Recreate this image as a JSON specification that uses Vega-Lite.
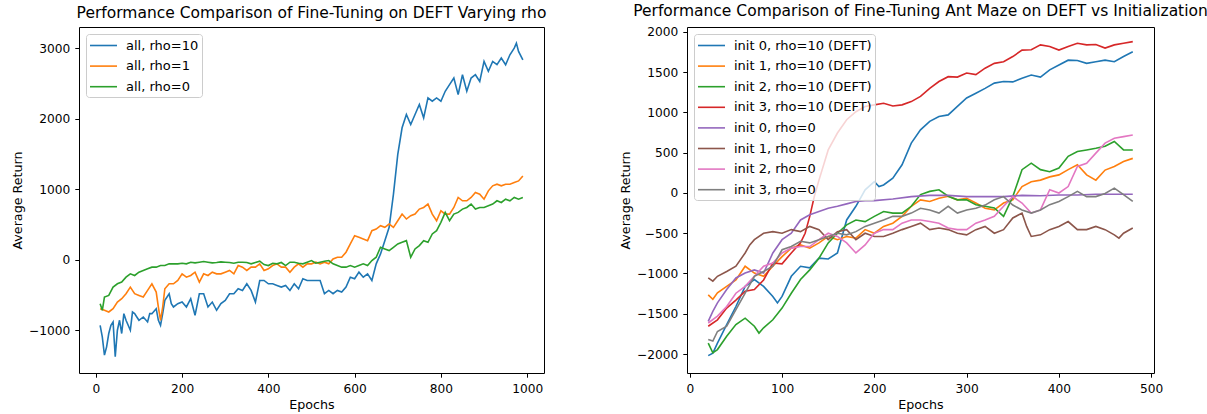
{
  "$schema": "https://vega.github.io/schema/vega-lite/v6.json",
  "background": "white",
  "padding": {"left": 11, "top": 3, "right": 0, "bottom": 0},
  "config": {
    "font": "DejaVu Sans",
    "view": {"stroke": "black", "strokeWidth": 1},
    "axis": {"domain": false, "grid": false, "tickColor": "black", "tickSize": 4.2, "tickWidth": 1, "labelColor": "black", "labelFontSize": 12.2, "titleFontSize": 12.7, "titleFontWeight": "normal", "titleColor": "black", "labelPadding": 5, "titlePadding": 4},
    "title": {"fontSize": 15.5, "fontWeight": "normal", "color": "black", "offset": 6},
    "legend": {"orient": "top-left", "offset": 7, "padding": 3, "fillColor": "rgba(255,255,255,0.8)", "strokeColor": "#cccccc", "cornerRadius": 3, "symbolType": "M-1.8,0H1.8", "symbolSize": 225, "symbolStrokeWidth": 1.8, "symbolOffset": 6, "labelFontSize": 13, "labelColor": "black", "labelOffset": 14, "rowPadding": 4.6, "labelLimit": 0},
    "line": {"strokeWidth": 1.6}
  },
  "spacing": 143,
  "bounds": "flush",
  "resolve": {"scale": {"color": "independent", "x": "independent", "y": "independent"}, "legend": {"color": "independent"}},
  "hconcat": [
    {
      "title": "Performance Comparison of Fine-Tuning on DEFT Varying rho",
      "width": 465,
      "height": 346,
      "data": {"values": [
        {"run":"all, rho=10","epoch":10,"ret":-933},{"run":"all, rho=10","epoch":15,"ret":-1097},{"run":"all, rho=10","epoch":20,"ret":-1356},{"run":"all, rho=10","epoch":25,"ret":-1239},{"run":"all, rho=10","epoch":30,"ret":-1050},{"run":"all, rho=10","epoch":35,"ret":-933},{"run":"all, rho=10","epoch":40,"ret":-885},{"run":"all, rho=10","epoch":45,"ret":-1380},{"run":"all, rho=10","epoch":50,"ret":-1003},{"run":"all, rho=10","epoch":55,"ret":-862},{"run":"all, rho=10","epoch":60,"ret":-1050},{"run":"all, rho=10","epoch":65,"ret":-768},{"run":"all, rho=10","epoch":70,"ret":-862},{"run":"all, rho=10","epoch":75,"ret":-933},{"run":"all, rho=10","epoch":80,"ret":-1003},{"run":"all, rho=10","epoch":85,"ret":-745},{"run":"all, rho=10","epoch":90,"ret":-768},{"run":"all, rho=10","epoch":95,"ret":-815},{"run":"all, rho=10","epoch":100,"ret":-862},{"run":"all, rho=10","epoch":110,"ret":-815},{"run":"all, rho=10","epoch":120,"ret":-885},{"run":"all, rho=10","epoch":125,"ret":-768},{"run":"all, rho=10","epoch":130,"ret":-768},{"run":"all, rho=10","epoch":140,"ret":-697},{"run":"all, rho=10","epoch":145,"ret":-862},{"run":"all, rho=10","epoch":150,"ret":-933},{"run":"all, rho=10","epoch":155,"ret":-768},{"run":"all, rho=10","epoch":160,"ret":-579},{"run":"all, rho=10","epoch":170,"ret":-485},{"run":"all, rho=10","epoch":175,"ret":-626},{"run":"all, rho=10","epoch":180,"ret":-673},{"run":"all, rho=10","epoch":190,"ret":-626},{"run":"all, rho=10","epoch":200,"ret":-603},{"run":"all, rho=10","epoch":210,"ret":-673},{"run":"all, rho=10","epoch":220,"ret":-556},{"run":"all, rho=10","epoch":230,"ret":-791},{"run":"all, rho=10","epoch":240,"ret":-485},{"run":"all, rho=10","epoch":250,"ret":-485},{"run":"all, rho=10","epoch":260,"ret":-673},{"run":"all, rho=10","epoch":270,"ret":-603},{"run":"all, rho=10","epoch":280,"ret":-720},{"run":"all, rho=10","epoch":290,"ret":-626},{"run":"all, rho=10","epoch":300,"ret":-579},{"run":"all, rho=10","epoch":310,"ret":-485},{"run":"all, rho=10","epoch":320,"ret":-485},{"run":"all, rho=10","epoch":330,"ret":-414},{"run":"all, rho=10","epoch":340,"ret":-438},{"run":"all, rho=10","epoch":350,"ret":-344},{"run":"all, rho=10","epoch":360,"ret":-438},{"run":"all, rho=10","epoch":370,"ret":-603},{"run":"all, rho=10","epoch":380,"ret":-297},{"run":"all, rho=10","epoch":390,"ret":-297},{"run":"all, rho=10","epoch":400,"ret":-344},{"run":"all, rho=10","epoch":410,"ret":-344},{"run":"all, rho=10","epoch":420,"ret":-367},{"run":"all, rho=10","epoch":430,"ret":-391},{"run":"all, rho=10","epoch":440,"ret":-367},{"run":"all, rho=10","epoch":450,"ret":-438},{"run":"all, rho=10","epoch":460,"ret":-344},{"run":"all, rho=10","epoch":470,"ret":-414},{"run":"all, rho=10","epoch":480,"ret":-273},{"run":"all, rho=10","epoch":490,"ret":-297},{"run":"all, rho=10","epoch":500,"ret":-297},{"run":"all, rho=10","epoch":510,"ret":-297},{"run":"all, rho=10","epoch":520,"ret":-297},{"run":"all, rho=10","epoch":530,"ret":-485},{"run":"all, rho=10","epoch":540,"ret":-438},{"run":"all, rho=10","epoch":550,"ret":-485},{"run":"all, rho=10","epoch":560,"ret":-438},{"run":"all, rho=10","epoch":570,"ret":-462},{"run":"all, rho=10","epoch":580,"ret":-391},{"run":"all, rho=10","epoch":590,"ret":-250},{"run":"all, rho=10","epoch":600,"ret":-273},{"run":"all, rho=10","epoch":610,"ret":-179},{"run":"all, rho=10","epoch":620,"ret":-250},{"run":"all, rho=10","epoch":630,"ret":-203},{"run":"all, rho=10","epoch":640,"ret":-297},{"run":"all, rho=10","epoch":650,"ret":-61},{"run":"all, rho=10","epoch":660,"ret":80},{"run":"all, rho=10","epoch":670,"ret":268},{"run":"all, rho=10","epoch":680,"ret":457},{"run":"all, rho=10","epoch":690,"ret":928},{"run":"all, rho=10","epoch":700,"ret":1493},{"run":"all, rho=10","epoch":710,"ret":1870},{"run":"all, rho=10","epoch":720,"ret":2058},{"run":"all, rho=10","epoch":730,"ret":1917},{"run":"all, rho=10","epoch":740,"ret":2058},{"run":"all, rho=10","epoch":750,"ret":2200},{"run":"all, rho=10","epoch":760,"ret":2011},{"run":"all, rho=10","epoch":770,"ret":2294},{"run":"all, rho=10","epoch":780,"ret":2247},{"run":"all, rho=10","epoch":790,"ret":2294},{"run":"all, rho=10","epoch":800,"ret":2247},{"run":"all, rho=10","epoch":810,"ret":2388},{"run":"all, rho=10","epoch":820,"ret":2482},{"run":"all, rho=10","epoch":830,"ret":2576},{"run":"all, rho=10","epoch":840,"ret":2341},{"run":"all, rho=10","epoch":850,"ret":2623},{"run":"all, rho=10","epoch":860,"ret":2388},{"run":"all, rho=10","epoch":870,"ret":2576},{"run":"all, rho=10","epoch":880,"ret":2623},{"run":"all, rho=10","epoch":890,"ret":2529},{"run":"all, rho=10","epoch":900,"ret":2812},{"run":"all, rho=10","epoch":910,"ret":2671},{"run":"all, rho=10","epoch":920,"ret":2812},{"run":"all, rho=10","epoch":930,"ret":2765},{"run":"all, rho=10","epoch":940,"ret":2859},{"run":"all, rho=10","epoch":950,"ret":2765},{"run":"all, rho=10","epoch":960,"ret":2906},{"run":"all, rho=10","epoch":970,"ret":3000},{"run":"all, rho=10","epoch":975,"ret":3071},{"run":"all, rho=10","epoch":980,"ret":2953},{"run":"all, rho=10","epoch":990,"ret":2835},
        {"run":"all, rho=1","epoch":10,"ret":-697},{"run":"all, rho=1","epoch":20,"ret":-721},{"run":"all, rho=1","epoch":30,"ret":-744},{"run":"all, rho=1","epoch":40,"ret":-697},{"run":"all, rho=1","epoch":50,"ret":-603},{"run":"all, rho=1","epoch":60,"ret":-556},{"run":"all, rho=1","epoch":70,"ret":-485},{"run":"all, rho=1","epoch":80,"ret":-391},{"run":"all, rho=1","epoch":90,"ret":-485},{"run":"all, rho=1","epoch":100,"ret":-509},{"run":"all, rho=1","epoch":110,"ret":-532},{"run":"all, rho=1","epoch":120,"ret":-438},{"run":"all, rho=1","epoch":130,"ret":-344},{"run":"all, rho=1","epoch":140,"ret":-462},{"run":"all, rho=1","epoch":145,"ret":-674},{"run":"all, rho=1","epoch":150,"ret":-862},{"run":"all, rho=1","epoch":155,"ret":-674},{"run":"all, rho=1","epoch":160,"ret":-414},{"run":"all, rho=1","epoch":170,"ret":-344},{"run":"all, rho=1","epoch":180,"ret":-344},{"run":"all, rho=1","epoch":190,"ret":-297},{"run":"all, rho=1","epoch":200,"ret":-203},{"run":"all, rho=1","epoch":210,"ret":-250},{"run":"all, rho=1","epoch":220,"ret":-226},{"run":"all, rho=1","epoch":230,"ret":-179},{"run":"all, rho=1","epoch":240,"ret":-320},{"run":"all, rho=1","epoch":250,"ret":-203},{"run":"all, rho=1","epoch":260,"ret":-226},{"run":"all, rho=1","epoch":270,"ret":-179},{"run":"all, rho=1","epoch":280,"ret":-203},{"run":"all, rho=1","epoch":290,"ret":-203},{"run":"all, rho=1","epoch":300,"ret":-179},{"run":"all, rho=1","epoch":310,"ret":-155},{"run":"all, rho=1","epoch":320,"ret":-203},{"run":"all, rho=1","epoch":330,"ret":-85},{"run":"all, rho=1","epoch":340,"ret":-108},{"run":"all, rho=1","epoch":350,"ret":-155},{"run":"all, rho=1","epoch":360,"ret":-108},{"run":"all, rho=1","epoch":370,"ret":-108},{"run":"all, rho=1","epoch":380,"ret":-61},{"run":"all, rho=1","epoch":390,"ret":-155},{"run":"all, rho=1","epoch":400,"ret":-132},{"run":"all, rho=1","epoch":410,"ret":-85},{"run":"all, rho=1","epoch":420,"ret":-61},{"run":"all, rho=1","epoch":430,"ret":-108},{"run":"all, rho=1","epoch":440,"ret":-108},{"run":"all, rho=1","epoch":450,"ret":-179},{"run":"all, rho=1","epoch":460,"ret":-108},{"run":"all, rho=1","epoch":470,"ret":-61},{"run":"all, rho=1","epoch":480,"ret":-108},{"run":"all, rho=1","epoch":490,"ret":-61},{"run":"all, rho=1","epoch":500,"ret":-61},{"run":"all, rho=1","epoch":510,"ret":-38},{"run":"all, rho=1","epoch":520,"ret":-61},{"run":"all, rho=1","epoch":530,"ret":-38},{"run":"all, rho=1","epoch":540,"ret":-61},{"run":"all, rho=1","epoch":550,"ret":9},{"run":"all, rho=1","epoch":560,"ret":33},{"run":"all, rho=1","epoch":570,"ret":33},{"run":"all, rho=1","epoch":580,"ret":104},{"run":"all, rho=1","epoch":590,"ret":221},{"run":"all, rho=1","epoch":600,"ret":339},{"run":"all, rho=1","epoch":610,"ret":316},{"run":"all, rho=1","epoch":620,"ret":292},{"run":"all, rho=1","epoch":630,"ret":268},{"run":"all, rho=1","epoch":640,"ret":410},{"run":"all, rho=1","epoch":650,"ret":433},{"run":"all, rho=1","epoch":660,"ret":480},{"run":"all, rho=1","epoch":670,"ret":457},{"run":"all, rho=1","epoch":680,"ret":504},{"run":"all, rho=1","epoch":690,"ret":457},{"run":"all, rho=1","epoch":700,"ret":551},{"run":"all, rho=1","epoch":710,"ret":645},{"run":"all, rho=1","epoch":720,"ret":575},{"run":"all, rho=1","epoch":730,"ret":622},{"run":"all, rho=1","epoch":740,"ret":645},{"run":"all, rho=1","epoch":750,"ret":716},{"run":"all, rho=1","epoch":760,"ret":739},{"run":"all, rho=1","epoch":770,"ret":787},{"run":"all, rho=1","epoch":780,"ret":645},{"run":"all, rho=1","epoch":790,"ret":551},{"run":"all, rho=1","epoch":800,"ret":692},{"run":"all, rho=1","epoch":810,"ret":645},{"run":"all, rho=1","epoch":820,"ret":645},{"run":"all, rho=1","epoch":830,"ret":739},{"run":"all, rho=1","epoch":840,"ret":881},{"run":"all, rho=1","epoch":850,"ret":834},{"run":"all, rho=1","epoch":860,"ret":834},{"run":"all, rho=1","epoch":870,"ret":881},{"run":"all, rho=1","epoch":880,"ret":951},{"run":"all, rho=1","epoch":890,"ret":928},{"run":"all, rho=1","epoch":900,"ret":857},{"run":"all, rho=1","epoch":910,"ret":975},{"run":"all, rho=1","epoch":920,"ret":1046},{"run":"all, rho=1","epoch":930,"ret":1069},{"run":"all, rho=1","epoch":940,"ret":1046},{"run":"all, rho=1","epoch":950,"ret":1069},{"run":"all, rho=1","epoch":960,"ret":1069},{"run":"all, rho=1","epoch":970,"ret":1093},{"run":"all, rho=1","epoch":980,"ret":1116},{"run":"all, rho=1","epoch":990,"ret":1187},
        {"run":"all, rho=0","epoch":10,"ret":-626},{"run":"all, rho=0","epoch":15,"ret":-721},{"run":"all, rho=0","epoch":20,"ret":-532},{"run":"all, rho=0","epoch":30,"ret":-509},{"run":"all, rho=0","epoch":40,"ret":-391},{"run":"all, rho=0","epoch":50,"ret":-344},{"run":"all, rho=0","epoch":60,"ret":-320},{"run":"all, rho=0","epoch":70,"ret":-250},{"run":"all, rho=0","epoch":80,"ret":-203},{"run":"all, rho=0","epoch":90,"ret":-226},{"run":"all, rho=0","epoch":100,"ret":-179},{"run":"all, rho=0","epoch":110,"ret":-155},{"run":"all, rho=0","epoch":120,"ret":-132},{"run":"all, rho=0","epoch":130,"ret":-108},{"run":"all, rho=0","epoch":140,"ret":-108},{"run":"all, rho=0","epoch":150,"ret":-85},{"run":"all, rho=0","epoch":160,"ret":-85},{"run":"all, rho=0","epoch":170,"ret":-61},{"run":"all, rho=0","epoch":180,"ret":-61},{"run":"all, rho=0","epoch":190,"ret":-61},{"run":"all, rho=0","epoch":200,"ret":-52},{"run":"all, rho=0","epoch":210,"ret":-61},{"run":"all, rho=0","epoch":220,"ret":-38},{"run":"all, rho=0","epoch":230,"ret":-47},{"run":"all, rho=0","epoch":240,"ret":-38},{"run":"all, rho=0","epoch":250,"ret":-28},{"run":"all, rho=0","epoch":260,"ret":-38},{"run":"all, rho=0","epoch":270,"ret":-47},{"run":"all, rho=0","epoch":280,"ret":-42},{"run":"all, rho=0","epoch":290,"ret":-33},{"run":"all, rho=0","epoch":300,"ret":-38},{"run":"all, rho=0","epoch":310,"ret":-42},{"run":"all, rho=0","epoch":320,"ret":-52},{"run":"all, rho=0","epoch":330,"ret":-38},{"run":"all, rho=0","epoch":340,"ret":-38},{"run":"all, rho=0","epoch":350,"ret":-42},{"run":"all, rho=0","epoch":360,"ret":-61},{"run":"all, rho=0","epoch":370,"ret":-42},{"run":"all, rho=0","epoch":380,"ret":-24},{"run":"all, rho=0","epoch":390,"ret":-71},{"run":"all, rho=0","epoch":400,"ret":-85},{"run":"all, rho=0","epoch":410,"ret":-52},{"run":"all, rho=0","epoch":420,"ret":-61},{"run":"all, rho=0","epoch":430,"ret":-42},{"run":"all, rho=0","epoch":440,"ret":-85},{"run":"all, rho=0","epoch":450,"ret":-38},{"run":"all, rho=0","epoch":460,"ret":-38},{"run":"all, rho=0","epoch":470,"ret":-52},{"run":"all, rho=0","epoch":480,"ret":-61},{"run":"all, rho=0","epoch":490,"ret":-38},{"run":"all, rho=0","epoch":500,"ret":-14},{"run":"all, rho=0","epoch":510,"ret":-52},{"run":"all, rho=0","epoch":520,"ret":-38},{"run":"all, rho=0","epoch":530,"ret":-24},{"run":"all, rho=0","epoch":540,"ret":-14},{"run":"all, rho=0","epoch":550,"ret":-61},{"run":"all, rho=0","epoch":560,"ret":-85},{"run":"all, rho=0","epoch":570,"ret":-108},{"run":"all, rho=0","epoch":580,"ret":-108},{"run":"all, rho=0","epoch":590,"ret":-85},{"run":"all, rho=0","epoch":600,"ret":-108},{"run":"all, rho=0","epoch":610,"ret":-85},{"run":"all, rho=0","epoch":620,"ret":-61},{"run":"all, rho=0","epoch":630,"ret":-85},{"run":"all, rho=0","epoch":640,"ret":-14},{"run":"all, rho=0","epoch":650,"ret":33},{"run":"all, rho=0","epoch":660,"ret":174},{"run":"all, rho=0","epoch":670,"ret":151},{"run":"all, rho=0","epoch":680,"ret":127},{"run":"all, rho=0","epoch":690,"ret":174},{"run":"all, rho=0","epoch":700,"ret":221},{"run":"all, rho=0","epoch":710,"ret":245},{"run":"all, rho=0","epoch":720,"ret":268},{"run":"all, rho=0","epoch":730,"ret":33},{"run":"all, rho=0","epoch":740,"ret":151},{"run":"all, rho=0","epoch":750,"ret":198},{"run":"all, rho=0","epoch":760,"ret":268},{"run":"all, rho=0","epoch":770,"ret":245},{"run":"all, rho=0","epoch":780,"ret":363},{"run":"all, rho=0","epoch":790,"ret":410},{"run":"all, rho=0","epoch":800,"ret":528},{"run":"all, rho=0","epoch":810,"ret":669},{"run":"all, rho=0","epoch":820,"ret":551},{"run":"all, rho=0","epoch":830,"ret":645},{"run":"all, rho=0","epoch":840,"ret":669},{"run":"all, rho=0","epoch":850,"ret":716},{"run":"all, rho=0","epoch":860,"ret":739},{"run":"all, rho=0","epoch":870,"ret":787},{"run":"all, rho=0","epoch":880,"ret":716},{"run":"all, rho=0","epoch":890,"ret":739},{"run":"all, rho=0","epoch":900,"ret":739},{"run":"all, rho=0","epoch":910,"ret":763},{"run":"all, rho=0","epoch":920,"ret":787},{"run":"all, rho=0","epoch":930,"ret":834},{"run":"all, rho=0","epoch":940,"ret":810},{"run":"all, rho=0","epoch":950,"ret":857},{"run":"all, rho=0","epoch":960,"ret":834},{"run":"all, rho=0","epoch":970,"ret":881},{"run":"all, rho=0","epoch":980,"ret":857},{"run":"all, rho=0","epoch":990,"ret":881}
      ]},
      "mark": {"type": "line"},
      "encoding": {
        "x": {"field": "epoch", "type": "quantitative", "title": "Epochs", "scale": {"domain": [-39, 1039], "nice": false, "zero": false}, "axis": {"values": [0, 200, 400, 600, 800, 1000], "format": "d"}},
        "y": {"field": "ret", "type": "quantitative", "title": "Average Return", "scale": {"domain": [-1610, 3300], "nice": false, "zero": false}, "axis": {"values": [-1000, 0, 1000, 2000, 3000], "format": "d"}},
        "color": {"field": "run", "type": "nominal", "scale": {"domain": ["all, rho=10", "all, rho=1", "all, rho=0"], "range": ["#1f77b4", "#ff7f0e", "#2ca02c"]}, "legend": {"title": null}}
      }
    },
    {
      "title": "Performance Comparison of Fine-Tuning Ant Maze on DEFT vs Initialization",
      "width": 467,
      "height": 346,
      "data": {"values": [
        {"run":"init 0, rho=10 (DEFT)","epoch":20,"ret":-2020},{"run":"init 0, rho=10 (DEFT)","epoch":25,"ret":-1990},{"run":"init 0, rho=10 (DEFT)","epoch":30,"ret":-1865},{"run":"init 0, rho=10 (DEFT)","epoch":40,"ret":-1635},{"run":"init 0, rho=10 (DEFT)","epoch":50,"ret":-1410},{"run":"init 0, rho=10 (DEFT)","epoch":60,"ret":-1160},{"run":"init 0, rho=10 (DEFT)","epoch":70,"ret":-1075},{"run":"init 0, rho=10 (DEFT)","epoch":80,"ret":-1160},{"run":"init 0, rho=10 (DEFT)","epoch":90,"ret":-1285},{"run":"init 0, rho=10 (DEFT)","epoch":95,"ret":-1365},{"run":"init 0, rho=10 (DEFT)","epoch":100,"ret":-1285},{"run":"init 0, rho=10 (DEFT)","epoch":110,"ret":-1035},{"run":"init 0, rho=10 (DEFT)","epoch":120,"ret":-910},{"run":"init 0, rho=10 (DEFT)","epoch":130,"ret":-930},{"run":"init 0, rho=10 (DEFT)","epoch":140,"ret":-810},{"run":"init 0, rho=10 (DEFT)","epoch":150,"ret":-820},{"run":"init 0, rho=10 (DEFT)","epoch":160,"ret":-745},{"run":"init 0, rho=10 (DEFT)","epoch":170,"ret":-335},{"run":"init 0, rho=10 (DEFT)","epoch":180,"ret":-165},{"run":"init 0, rho=10 (DEFT)","epoch":190,"ret":40},{"run":"init 0, rho=10 (DEFT)","epoch":200,"ret":140},{"run":"init 0, rho=10 (DEFT)","epoch":205,"ret":80},{"run":"init 0, rho=10 (DEFT)","epoch":210,"ret":100},{"run":"init 0, rho=10 (DEFT)","epoch":220,"ret":185},{"run":"init 0, rho=10 (DEFT)","epoch":230,"ret":350},{"run":"init 0, rho=10 (DEFT)","epoch":240,"ret":620},{"run":"init 0, rho=10 (DEFT)","epoch":250,"ret":785},{"run":"init 0, rho=10 (DEFT)","epoch":260,"ret":890},{"run":"init 0, rho=10 (DEFT)","epoch":270,"ret":950},{"run":"init 0, rho=10 (DEFT)","epoch":280,"ret":970},{"run":"init 0, rho=10 (DEFT)","epoch":290,"ret":1075},{"run":"init 0, rho=10 (DEFT)","epoch":300,"ret":1180},{"run":"init 0, rho=10 (DEFT)","epoch":310,"ret":1240},{"run":"init 0, rho=10 (DEFT)","epoch":320,"ret":1300},{"run":"init 0, rho=10 (DEFT)","epoch":330,"ret":1365},{"run":"init 0, rho=10 (DEFT)","epoch":340,"ret":1385},{"run":"init 0, rho=10 (DEFT)","epoch":350,"ret":1380},{"run":"init 0, rho=10 (DEFT)","epoch":360,"ret":1425},{"run":"init 0, rho=10 (DEFT)","epoch":370,"ret":1465},{"run":"init 0, rho=10 (DEFT)","epoch":380,"ret":1440},{"run":"init 0, rho=10 (DEFT)","epoch":390,"ret":1530},{"run":"init 0, rho=10 (DEFT)","epoch":400,"ret":1590},{"run":"init 0, rho=10 (DEFT)","epoch":410,"ret":1650},{"run":"init 0, rho=10 (DEFT)","epoch":420,"ret":1645},{"run":"init 0, rho=10 (DEFT)","epoch":430,"ret":1610},{"run":"init 0, rho=10 (DEFT)","epoch":440,"ret":1630},{"run":"init 0, rho=10 (DEFT)","epoch":450,"ret":1650},{"run":"init 0, rho=10 (DEFT)","epoch":460,"ret":1630},{"run":"init 0, rho=10 (DEFT)","epoch":470,"ret":1695},{"run":"init 0, rho=10 (DEFT)","epoch":480,"ret":1755},
        {"run":"init 1, rho=10 (DEFT)","epoch":20,"ret":-1265},{"run":"init 1, rho=10 (DEFT)","epoch":25,"ret":-1320},{"run":"init 1, rho=10 (DEFT)","epoch":30,"ret":-1240},{"run":"init 1, rho=10 (DEFT)","epoch":40,"ret":-1160},{"run":"init 1, rho=10 (DEFT)","epoch":50,"ret":-1080},{"run":"init 1, rho=10 (DEFT)","epoch":60,"ret":-910},{"run":"init 1, rho=10 (DEFT)","epoch":70,"ret":-995},{"run":"init 1, rho=10 (DEFT)","epoch":80,"ret":-1035},{"run":"init 1, rho=10 (DEFT)","epoch":90,"ret":-910},{"run":"init 1, rho=10 (DEFT)","epoch":100,"ret":-790},{"run":"init 1, rho=10 (DEFT)","epoch":110,"ret":-685},{"run":"init 1, rho=10 (DEFT)","epoch":120,"ret":-645},{"run":"init 1, rho=10 (DEFT)","epoch":130,"ret":-685},{"run":"init 1, rho=10 (DEFT)","epoch":140,"ret":-620},{"run":"init 1, rho=10 (DEFT)","epoch":150,"ret":-540},{"run":"init 1, rho=10 (DEFT)","epoch":160,"ret":-580},{"run":"init 1, rho=10 (DEFT)","epoch":170,"ret":-540},{"run":"init 1, rho=10 (DEFT)","epoch":180,"ret":-560},{"run":"init 1, rho=10 (DEFT)","epoch":190,"ret":-455},{"run":"init 1, rho=10 (DEFT)","epoch":200,"ret":-500},{"run":"init 1, rho=10 (DEFT)","epoch":210,"ret":-415},{"run":"init 1, rho=10 (DEFT)","epoch":220,"ret":-375},{"run":"init 1, rho=10 (DEFT)","epoch":230,"ret":-290},{"run":"init 1, rho=10 (DEFT)","epoch":240,"ret":-165},{"run":"init 1, rho=10 (DEFT)","epoch":250,"ret":-85},{"run":"init 1, rho=10 (DEFT)","epoch":260,"ret":-105},{"run":"init 1, rho=10 (DEFT)","epoch":270,"ret":-65},{"run":"init 1, rho=10 (DEFT)","epoch":280,"ret":-40},{"run":"init 1, rho=10 (DEFT)","epoch":290,"ret":-85},{"run":"init 1, rho=10 (DEFT)","epoch":300,"ret":-65},{"run":"init 1, rho=10 (DEFT)","epoch":310,"ret":-125},{"run":"init 1, rho=10 (DEFT)","epoch":320,"ret":-190},{"run":"init 1, rho=10 (DEFT)","epoch":330,"ret":-210},{"run":"init 1, rho=10 (DEFT)","epoch":340,"ret":-125},{"run":"init 1, rho=10 (DEFT)","epoch":350,"ret":-85},{"run":"init 1, rho=10 (DEFT)","epoch":360,"ret":80},{"run":"init 1, rho=10 (DEFT)","epoch":370,"ret":140},{"run":"init 1, rho=10 (DEFT)","epoch":380,"ret":160},{"run":"init 1, rho=10 (DEFT)","epoch":390,"ret":200},{"run":"init 1, rho=10 (DEFT)","epoch":400,"ret":225},{"run":"init 1, rho=10 (DEFT)","epoch":410,"ret":290},{"run":"init 1, rho=10 (DEFT)","epoch":420,"ret":350},{"run":"init 1, rho=10 (DEFT)","epoch":430,"ret":225},{"run":"init 1, rho=10 (DEFT)","epoch":440,"ret":160},{"run":"init 1, rho=10 (DEFT)","epoch":450,"ret":285},{"run":"init 1, rho=10 (DEFT)","epoch":460,"ret":330},{"run":"init 1, rho=10 (DEFT)","epoch":470,"ret":390},{"run":"init 1, rho=10 (DEFT)","epoch":480,"ret":430},
        {"run":"init 2, rho=10 (DEFT)","epoch":20,"ret":-1865},{"run":"init 2, rho=10 (DEFT)","epoch":25,"ret":-1985},{"run":"init 2, rho=10 (DEFT)","epoch":30,"ret":-1945},{"run":"init 2, rho=10 (DEFT)","epoch":40,"ret":-1780},{"run":"init 2, rho=10 (DEFT)","epoch":50,"ret":-1635},{"run":"init 2, rho=10 (DEFT)","epoch":60,"ret":-1555},{"run":"init 2, rho=10 (DEFT)","epoch":70,"ret":-1655},{"run":"init 2, rho=10 (DEFT)","epoch":75,"ret":-1740},{"run":"init 2, rho=10 (DEFT)","epoch":80,"ret":-1675},{"run":"init 2, rho=10 (DEFT)","epoch":90,"ret":-1575},{"run":"init 2, rho=10 (DEFT)","epoch":100,"ret":-1430},{"run":"init 2, rho=10 (DEFT)","epoch":110,"ret":-1245},{"run":"init 2, rho=10 (DEFT)","epoch":120,"ret":-1075},{"run":"init 2, rho=10 (DEFT)","epoch":130,"ret":-955},{"run":"init 2, rho=10 (DEFT)","epoch":140,"ret":-810},{"run":"init 2, rho=10 (DEFT)","epoch":150,"ret":-620},{"run":"init 2, rho=10 (DEFT)","epoch":160,"ret":-500},{"run":"init 2, rho=10 (DEFT)","epoch":170,"ret":-395},{"run":"init 2, rho=10 (DEFT)","epoch":180,"ret":-335},{"run":"init 2, rho=10 (DEFT)","epoch":190,"ret":-355},{"run":"init 2, rho=10 (DEFT)","epoch":200,"ret":-290},{"run":"init 2, rho=10 (DEFT)","epoch":210,"ret":-230},{"run":"init 2, rho=10 (DEFT)","epoch":220,"ret":-250},{"run":"init 2, rho=10 (DEFT)","epoch":230,"ret":-250},{"run":"init 2, rho=10 (DEFT)","epoch":240,"ret":-165},{"run":"init 2, rho=10 (DEFT)","epoch":250,"ret":-20},{"run":"init 2, rho=10 (DEFT)","epoch":260,"ret":20},{"run":"init 2, rho=10 (DEFT)","epoch":270,"ret":40},{"run":"init 2, rho=10 (DEFT)","epoch":280,"ret":-40},{"run":"init 2, rho=10 (DEFT)","epoch":290,"ret":-85},{"run":"init 2, rho=10 (DEFT)","epoch":300,"ret":-85},{"run":"init 2, rho=10 (DEFT)","epoch":310,"ret":-145},{"run":"init 2, rho=10 (DEFT)","epoch":320,"ret":-165},{"run":"init 2, rho=10 (DEFT)","epoch":330,"ret":-185},{"run":"init 2, rho=10 (DEFT)","epoch":340,"ret":-290},{"run":"init 2, rho=10 (DEFT)","epoch":350,"ret":-45},{"run":"init 2, rho=10 (DEFT)","epoch":360,"ret":290},{"run":"init 2, rho=10 (DEFT)","epoch":370,"ret":370},{"run":"init 2, rho=10 (DEFT)","epoch":380,"ret":290},{"run":"init 2, rho=10 (DEFT)","epoch":390,"ret":265},{"run":"init 2, rho=10 (DEFT)","epoch":400,"ret":310},{"run":"init 2, rho=10 (DEFT)","epoch":410,"ret":455},{"run":"init 2, rho=10 (DEFT)","epoch":420,"ret":515},{"run":"init 2, rho=10 (DEFT)","epoch":430,"ret":535},{"run":"init 2, rho=10 (DEFT)","epoch":440,"ret":555},{"run":"init 2, rho=10 (DEFT)","epoch":450,"ret":580},{"run":"init 2, rho=10 (DEFT)","epoch":460,"ret":640},{"run":"init 2, rho=10 (DEFT)","epoch":470,"ret":535},{"run":"init 2, rho=10 (DEFT)","epoch":480,"ret":535},
        {"run":"init 3, rho=10 (DEFT)","epoch":20,"ret":-1655},{"run":"init 3, rho=10 (DEFT)","epoch":30,"ret":-1575},{"run":"init 3, rho=10 (DEFT)","epoch":40,"ret":-1430},{"run":"init 3, rho=10 (DEFT)","epoch":50,"ret":-1330},{"run":"init 3, rho=10 (DEFT)","epoch":60,"ret":-1220},{"run":"init 3, rho=10 (DEFT)","epoch":70,"ret":-1200},{"run":"init 3, rho=10 (DEFT)","epoch":80,"ret":-1080},{"run":"init 3, rho=10 (DEFT)","epoch":90,"ret":-870},{"run":"init 3, rho=10 (DEFT)","epoch":100,"ret":-880},{"run":"init 3, rho=10 (DEFT)","epoch":110,"ret":-745},{"run":"init 3, rho=10 (DEFT)","epoch":120,"ret":-620},{"run":"init 3, rho=10 (DEFT)","epoch":125,"ret":-500},{"run":"init 3, rho=10 (DEFT)","epoch":130,"ret":-290},{"run":"init 3, rho=10 (DEFT)","epoch":135,"ret":-40},{"run":"init 3, rho=10 (DEFT)","epoch":140,"ret":160},{"run":"init 3, rho=10 (DEFT)","epoch":150,"ret":535},{"run":"init 3, rho=10 (DEFT)","epoch":160,"ret":745},{"run":"init 3, rho=10 (DEFT)","epoch":170,"ret":910},{"run":"init 3, rho=10 (DEFT)","epoch":180,"ret":1010},{"run":"init 3, rho=10 (DEFT)","epoch":190,"ret":1075},{"run":"init 3, rho=10 (DEFT)","epoch":200,"ret":1095},{"run":"init 3, rho=10 (DEFT)","epoch":210,"ret":1115},{"run":"init 3, rho=10 (DEFT)","epoch":220,"ret":1080},{"run":"init 3, rho=10 (DEFT)","epoch":230,"ret":1095},{"run":"init 3, rho=10 (DEFT)","epoch":240,"ret":1135},{"run":"init 3, rho=10 (DEFT)","epoch":250,"ret":1200},{"run":"init 3, rho=10 (DEFT)","epoch":260,"ret":1300},{"run":"init 3, rho=10 (DEFT)","epoch":270,"ret":1385},{"run":"init 3, rho=10 (DEFT)","epoch":280,"ret":1445},{"run":"init 3, rho=10 (DEFT)","epoch":290,"ret":1440},{"run":"init 3, rho=10 (DEFT)","epoch":300,"ret":1490},{"run":"init 3, rho=10 (DEFT)","epoch":310,"ret":1470},{"run":"init 3, rho=10 (DEFT)","epoch":320,"ret":1550},{"run":"init 3, rho=10 (DEFT)","epoch":330,"ret":1610},{"run":"init 3, rho=10 (DEFT)","epoch":340,"ret":1630},{"run":"init 3, rho=10 (DEFT)","epoch":350,"ret":1695},{"run":"init 3, rho=10 (DEFT)","epoch":360,"ret":1775},{"run":"init 3, rho=10 (DEFT)","epoch":370,"ret":1780},{"run":"init 3, rho=10 (DEFT)","epoch":380,"ret":1840},{"run":"init 3, rho=10 (DEFT)","epoch":390,"ret":1820},{"run":"init 3, rho=10 (DEFT)","epoch":400,"ret":1775},{"run":"init 3, rho=10 (DEFT)","epoch":410,"ret":1820},{"run":"init 3, rho=10 (DEFT)","epoch":420,"ret":1860},{"run":"init 3, rho=10 (DEFT)","epoch":430,"ret":1840},{"run":"init 3, rho=10 (DEFT)","epoch":440,"ret":1845},{"run":"init 3, rho=10 (DEFT)","epoch":450,"ret":1800},{"run":"init 3, rho=10 (DEFT)","epoch":460,"ret":1840},{"run":"init 3, rho=10 (DEFT)","epoch":470,"ret":1860},{"run":"init 3, rho=10 (DEFT)","epoch":480,"ret":1880},
        {"run":"init 0, rho=0","epoch":20,"ret":-1595},{"run":"init 0, rho=0","epoch":25,"ret":-1470},{"run":"init 0, rho=0","epoch":30,"ret":-1365},{"run":"init 0, rho=0","epoch":40,"ret":-1200},{"run":"init 0, rho=0","epoch":50,"ret":-1055},{"run":"init 0, rho=0","epoch":60,"ret":-995},{"run":"init 0, rho=0","epoch":70,"ret":-955},{"run":"init 0, rho=0","epoch":80,"ret":-995},{"run":"init 0, rho=0","epoch":90,"ret":-745},{"run":"init 0, rho=0","epoch":100,"ret":-580},{"run":"init 0, rho=0","epoch":110,"ret":-500},{"run":"init 0, rho=0","epoch":120,"ret":-335},{"run":"init 0, rho=0","epoch":130,"ret":-270},{"run":"init 0, rho=0","epoch":140,"ret":-230},{"run":"init 0, rho=0","epoch":150,"ret":-190},{"run":"init 0, rho=0","epoch":160,"ret":-165},{"run":"init 0, rho=0","epoch":170,"ret":-135},{"run":"init 0, rho=0","epoch":180,"ret":-105},{"run":"init 0, rho=0","epoch":190,"ret":-95},{"run":"init 0, rho=0","epoch":200,"ret":-95},{"run":"init 0, rho=0","epoch":220,"ret":-75},{"run":"init 0, rho=0","epoch":240,"ret":-45},{"run":"init 0, rho=0","epoch":260,"ret":-30},{"run":"init 0, rho=0","epoch":280,"ret":-30},{"run":"init 0, rho=0","epoch":300,"ret":-45},{"run":"init 0, rho=0","epoch":320,"ret":-45},{"run":"init 0, rho=0","epoch":340,"ret":-45},{"run":"init 0, rho=0","epoch":360,"ret":-30},{"run":"init 0, rho=0","epoch":380,"ret":-35},{"run":"init 0, rho=0","epoch":400,"ret":-25},{"run":"init 0, rho=0","epoch":420,"ret":-25},{"run":"init 0, rho=0","epoch":440,"ret":-15},{"run":"init 0, rho=0","epoch":460,"ret":-15},{"run":"init 0, rho=0","epoch":480,"ret":-15},
        {"run":"init 1, rho=0","epoch":20,"ret":-1055},{"run":"init 1, rho=0","epoch":25,"ret":-1095},{"run":"init 1, rho=0","epoch":30,"ret":-1035},{"run":"init 1, rho=0","epoch":40,"ret":-975},{"run":"init 1, rho=0","epoch":50,"ret":-910},{"run":"init 1, rho=0","epoch":60,"ret":-745},{"run":"init 1, rho=0","epoch":65,"ret":-645},{"run":"init 1, rho=0","epoch":70,"ret":-580},{"run":"init 1, rho=0","epoch":80,"ret":-500},{"run":"init 1, rho=0","epoch":90,"ret":-480},{"run":"init 1, rho=0","epoch":100,"ret":-500},{"run":"init 1, rho=0","epoch":110,"ret":-455},{"run":"init 1, rho=0","epoch":120,"ret":-480},{"run":"init 1, rho=0","epoch":130,"ret":-415},{"run":"init 1, rho=0","epoch":140,"ret":-455},{"run":"init 1, rho=0","epoch":150,"ret":-580},{"run":"init 1, rho=0","epoch":160,"ret":-480},{"run":"init 1, rho=0","epoch":170,"ret":-455},{"run":"init 1, rho=0","epoch":180,"ret":-580},{"run":"init 1, rho=0","epoch":190,"ret":-500},{"run":"init 1, rho=0","epoch":200,"ret":-540},{"run":"init 1, rho=0","epoch":210,"ret":-540},{"run":"init 1, rho=0","epoch":220,"ret":-500},{"run":"init 1, rho=0","epoch":230,"ret":-455},{"run":"init 1, rho=0","epoch":240,"ret":-415},{"run":"init 1, rho=0","epoch":250,"ret":-375},{"run":"init 1, rho=0","epoch":260,"ret":-455},{"run":"init 1, rho=0","epoch":270,"ret":-435},{"run":"init 1, rho=0","epoch":280,"ret":-455},{"run":"init 1, rho=0","epoch":290,"ret":-500},{"run":"init 1, rho=0","epoch":300,"ret":-520},{"run":"init 1, rho=0","epoch":310,"ret":-455},{"run":"init 1, rho=0","epoch":320,"ret":-415},{"run":"init 1, rho=0","epoch":330,"ret":-500},{"run":"init 1, rho=0","epoch":340,"ret":-455},{"run":"init 1, rho=0","epoch":350,"ret":-310},{"run":"init 1, rho=0","epoch":360,"ret":-250},{"run":"init 1, rho=0","epoch":365,"ret":-415},{"run":"init 1, rho=0","epoch":370,"ret":-540},{"run":"init 1, rho=0","epoch":380,"ret":-520},{"run":"init 1, rho=0","epoch":390,"ret":-455},{"run":"init 1, rho=0","epoch":400,"ret":-415},{"run":"init 1, rho=0","epoch":410,"ret":-355},{"run":"init 1, rho=0","epoch":420,"ret":-455},{"run":"init 1, rho=0","epoch":430,"ret":-455},{"run":"init 1, rho=0","epoch":440,"ret":-415},{"run":"init 1, rho=0","epoch":450,"ret":-455},{"run":"init 1, rho=0","epoch":460,"ret":-520},{"run":"init 1, rho=0","epoch":465,"ret":-560},{"run":"init 1, rho=0","epoch":470,"ret":-500},{"run":"init 1, rho=0","epoch":480,"ret":-435},
        {"run":"init 2, rho=0","epoch":20,"ret":-1615},{"run":"init 2, rho=0","epoch":30,"ret":-1530},{"run":"init 2, rho=0","epoch":40,"ret":-1410},{"run":"init 2, rho=0","epoch":50,"ret":-1245},{"run":"init 2, rho=0","epoch":60,"ret":-1160},{"run":"init 2, rho=0","epoch":70,"ret":-1035},{"run":"init 2, rho=0","epoch":80,"ret":-910},{"run":"init 2, rho=0","epoch":90,"ret":-870},{"run":"init 2, rho=0","epoch":100,"ret":-745},{"run":"init 2, rho=0","epoch":110,"ret":-685},{"run":"init 2, rho=0","epoch":120,"ret":-665},{"run":"init 2, rho=0","epoch":130,"ret":-665},{"run":"init 2, rho=0","epoch":140,"ret":-580},{"run":"init 2, rho=0","epoch":150,"ret":-500},{"run":"init 2, rho=0","epoch":160,"ret":-540},{"run":"init 2, rho=0","epoch":170,"ret":-620},{"run":"init 2, rho=0","epoch":180,"ret":-745},{"run":"init 2, rho=0","epoch":190,"ret":-645},{"run":"init 2, rho=0","epoch":200,"ret":-500},{"run":"init 2, rho=0","epoch":210,"ret":-455},{"run":"init 2, rho=0","epoch":220,"ret":-455},{"run":"init 2, rho=0","epoch":230,"ret":-375},{"run":"init 2, rho=0","epoch":240,"ret":-335},{"run":"init 2, rho=0","epoch":250,"ret":-335},{"run":"init 2, rho=0","epoch":260,"ret":-355},{"run":"init 2, rho=0","epoch":270,"ret":-375},{"run":"init 2, rho=0","epoch":280,"ret":-435},{"run":"init 2, rho=0","epoch":290,"ret":-455},{"run":"init 2, rho=0","epoch":300,"ret":-455},{"run":"init 2, rho=0","epoch":310,"ret":-375},{"run":"init 2, rho=0","epoch":320,"ret":-335},{"run":"init 2, rho=0","epoch":330,"ret":-290},{"run":"init 2, rho=0","epoch":340,"ret":-165},{"run":"init 2, rho=0","epoch":350,"ret":-45},{"run":"init 2, rho=0","epoch":360,"ret":-125},{"run":"init 2, rho=0","epoch":370,"ret":-250},{"run":"init 2, rho=0","epoch":380,"ret":-210},{"run":"init 2, rho=0","epoch":390,"ret":40},{"run":"init 2, rho=0","epoch":400,"ret":0},{"run":"init 2, rho=0","epoch":410,"ret":80},{"run":"init 2, rho=0","epoch":420,"ret":330},{"run":"init 2, rho=0","epoch":430,"ret":370},{"run":"init 2, rho=0","epoch":440,"ret":495},{"run":"init 2, rho=0","epoch":450,"ret":620},{"run":"init 2, rho=0","epoch":460,"ret":680},{"run":"init 2, rho=0","epoch":470,"ret":700},{"run":"init 2, rho=0","epoch":480,"ret":720},
        {"run":"init 3, rho=0","epoch":20,"ret":-1820},{"run":"init 3, rho=0","epoch":25,"ret":-1840},{"run":"init 3, rho=0","epoch":30,"ret":-1720},{"run":"init 3, rho=0","epoch":40,"ret":-1655},{"run":"init 3, rho=0","epoch":50,"ret":-1450},{"run":"init 3, rho=0","epoch":60,"ret":-1245},{"run":"init 3, rho=0","epoch":70,"ret":-1035},{"run":"init 3, rho=0","epoch":80,"ret":-975},{"run":"init 3, rho=0","epoch":90,"ret":-910},{"run":"init 3, rho=0","epoch":100,"ret":-705},{"run":"init 3, rho=0","epoch":110,"ret":-665},{"run":"init 3, rho=0","epoch":120,"ret":-600},{"run":"init 3, rho=0","epoch":130,"ret":-620},{"run":"init 3, rho=0","epoch":140,"ret":-580},{"run":"init 3, rho=0","epoch":150,"ret":-540},{"run":"init 3, rho=0","epoch":160,"ret":-500},{"run":"init 3, rho=0","epoch":170,"ret":-520},{"run":"init 3, rho=0","epoch":180,"ret":-480},{"run":"init 3, rho=0","epoch":190,"ret":-415},{"run":"init 3, rho=0","epoch":200,"ret":-375},{"run":"init 3, rho=0","epoch":210,"ret":-335},{"run":"init 3, rho=0","epoch":220,"ret":-290},{"run":"init 3, rho=0","epoch":230,"ret":-290},{"run":"init 3, rho=0","epoch":240,"ret":-250},{"run":"init 3, rho=0","epoch":250,"ret":-190},{"run":"init 3, rho=0","epoch":260,"ret":-210},{"run":"init 3, rho=0","epoch":270,"ret":-250},{"run":"init 3, rho=0","epoch":280,"ret":-165},{"run":"init 3, rho=0","epoch":290,"ret":-250},{"run":"init 3, rho=0","epoch":300,"ret":-210},{"run":"init 3, rho=0","epoch":310,"ret":-190},{"run":"init 3, rho=0","epoch":320,"ret":-150},{"run":"init 3, rho=0","epoch":330,"ret":-85},{"run":"init 3, rho=0","epoch":340,"ret":-45},{"run":"init 3, rho=0","epoch":350,"ret":-150},{"run":"init 3, rho=0","epoch":360,"ret":-210},{"run":"init 3, rho=0","epoch":370,"ret":-250},{"run":"init 3, rho=0","epoch":380,"ret":-210},{"run":"init 3, rho=0","epoch":390,"ret":-145},{"run":"init 3, rho=0","epoch":400,"ret":-105},{"run":"init 3, rho=0","epoch":410,"ret":-45},{"run":"init 3, rho=0","epoch":420,"ret":20},{"run":"init 3, rho=0","epoch":430,"ret":-45},{"run":"init 3, rho=0","epoch":440,"ret":-45},{"run":"init 3, rho=0","epoch":450,"ret":-5},{"run":"init 3, rho=0","epoch":460,"ret":60},{"run":"init 3, rho=0","epoch":470,"ret":-20},{"run":"init 3, rho=0","epoch":480,"ret":-105}
      ]},
      "mark": {"type": "line"},
      "encoding": {
        "x": {"field": "epoch", "type": "quantitative", "title": "Epochs", "scale": {"domain": [-3, 503], "nice": false, "zero": false}, "axis": {"values": [0, 100, 200, 300, 400, 500], "format": "d"}},
        "y": {"field": "ret", "type": "quantitative", "title": "Average Return", "scale": {"domain": [-2236, 2062], "nice": false, "zero": false}, "axis": {"values": [-2000, -1500, -1000, -500, 0, 500, 1000, 1500, 2000], "format": "d"}},
        "color": {"field": "run", "type": "nominal", "scale": {"domain": ["init 0, rho=10 (DEFT)", "init 1, rho=10 (DEFT)", "init 2, rho=10 (DEFT)", "init 3, rho=10 (DEFT)", "init 0, rho=0", "init 1, rho=0", "init 2, rho=0", "init 3, rho=0"], "range": ["#1f77b4", "#ff7f0e", "#2ca02c", "#d62728", "#9467bd", "#8c564b", "#e377c2", "#7f7f7f"]}, "legend": {"title": null}}
      }
    }
  ]
}
